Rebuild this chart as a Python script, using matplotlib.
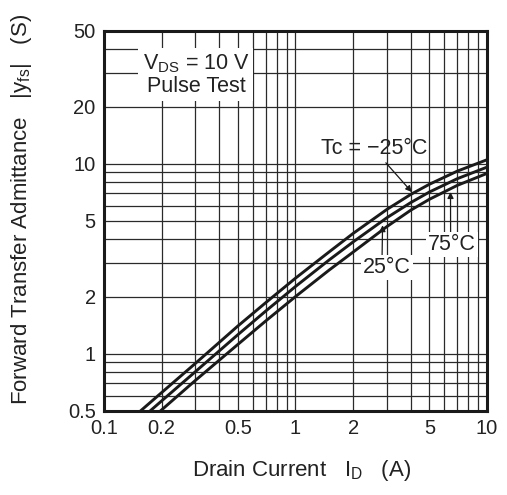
import matplotlib.pyplot as plt
from matplotlib.ticker import FixedLocator, NullFormatter

plt.rcParams["font.family"] = ["Liberation Sans", "DejaVu Sans"]
plt.rcParams["mathtext.fontset"] = "custom"
plt.rcParams["mathtext.rm"] = "Liberation Sans"
plt.rcParams["mathtext.it"] = "Liberation Sans"

# Curve data (I_D in A, |yfs| in S)
id_m25 = [0.155, 0.2, 0.3, 0.5, 0.7, 1, 1.5, 2, 3, 4, 5, 7, 10]
yfs_m25 = [0.5, 0.625, 0.89, 1.4, 1.86, 2.5, 3.44, 4.3, 5.75, 6.9, 7.8, 9.15, 10.5]

id_25 = [0.174, 0.2, 0.3, 0.5, 0.7, 1, 1.5, 2, 3, 4, 5, 7, 10]
yfs_25 = [0.5, 0.565, 0.805, 1.26, 1.68, 2.26, 3.12, 3.88, 5.2, 6.25, 7.1, 8.35, 9.6]

id_75 = [0.197, 0.3, 0.5, 0.7, 1, 1.5, 2, 3, 4, 5, 7, 10]
yfs_75 = [0.5, 0.724, 1.12, 1.49, 2.0, 2.76, 3.43, 4.67, 5.7, 6.5, 7.7, 8.9]

x_major = [0.1, 0.2, 0.5, 1, 2, 5, 10]
x_labels = ["0.1", "0.2", "0.5", "1", "2", "5", "10"]
y_major = [0.5, 1, 2, 5, 10, 20, 50]
y_labels = ["0.5", "1", "2", "5", "10", "20", "50"]
x_grid = [0.3, 0.4, 0.6, 0.7, 0.8, 0.9, 3, 4, 6, 7, 8, 9]
y_grid = [0.6, 0.7, 0.8, 0.9, 3, 4, 6, 7, 8, 9, 30, 40]

fig = plt.figure(figsize=(5.07, 4.95), dpi=100)
ax = fig.add_axes([0.2051, 0.1697, 0.7554, 0.7677])

ax.set_xscale("log")
ax.set_yscale("log")
ax.set_xlim(0.1, 10)
ax.set_ylim(0.5, 50)

ax.xaxis.set_major_locator(FixedLocator(x_major))
ax.xaxis.set_minor_locator(FixedLocator(x_grid))
ax.yaxis.set_major_locator(FixedLocator(y_major))
ax.yaxis.set_minor_locator(FixedLocator(y_grid))
ax.set_xticklabels(x_labels)
ax.set_yticklabels(y_labels)
ax.xaxis.set_minor_formatter(NullFormatter())
ax.yaxis.set_minor_formatter(NullFormatter())
ax.tick_params(which="both", length=0, labelsize=14.5, colors="#222222")
ax.tick_params(axis="x", pad=6)
ax.tick_params(axis="y", pad=6)

# grid on every decade subdivision
ax.grid(which="both", color="#2a2a2a", linewidth=0.9)
ax.set_axisbelow(True)

for side in ax.spines.values():
    side.set_linewidth(2.2)
    side.set_color("#1a1a1a")

# curves
for xs, ys in [(id_m25, yfs_m25), (id_25, yfs_25), (id_75, yfs_75)]:
    ax.plot(xs, ys, color="#1a1a1a", linewidth=2.1, solid_capstyle="butt", zorder=3)

white = dict(facecolor="white", edgecolor="none", pad=1.5)

ax.text(0.302, 29.4, "V$_{\\mathrm{DS}}$ = 10 V\nPulse Test", fontsize=15.5,
        ha="center", va="center", linespacing=1.1, color="#222222",
        bbox=dict(facecolor="white", edgecolor="none", pad=3), zorder=4)

# Tc = -25 C label and arrow
ax.annotate("Tc = \u221225\u00b0C", xy=(4.05, 7.1), xytext=(2.57, 10.6),
            fontsize=15.5, ha="center", va="bottom", color="#222222",
            arrowprops=dict(arrowstyle="-|>", color="#1a1a1a", lw=0.9,
                            mutation_scale=9, shrinkA=1, shrinkB=0,
                            relpos=(0.58, 0.0)),
            zorder=4)

# 25 C label and arrow
ax.annotate("25\u00b0C", xy=(2.85, 4.75), xytext=(3.0, 2.84),
            fontsize=15.5, ha="center", va="center", color="#222222",
            bbox=white,
            arrowprops=dict(arrowstyle="-|>", color="#1a1a1a", lw=0.9,
                            mutation_scale=9, shrinkA=0, shrinkB=0,
                            relpos=(0.4, 1.0)),
            zorder=4)

# 75 C label and arrow
ax.annotate("75\u00b0C", xy=(6.45, 7.1), xytext=(6.57, 3.75),
            fontsize=15.5, ha="center", va="center", color="#222222",
            bbox=white,
            arrowprops=dict(arrowstyle="-|>", color="#1a1a1a", lw=0.9,
                            mutation_scale=9, shrinkA=0, shrinkB=0,
                            relpos=(0.47, 1.0)),
            zorder=4)

fig.text(0.594, 0.05, "Drain Current   I$_{\\mathrm{D}}$   (A)", fontsize=16,
         ha="center", va="center", color="#222222")
fig.text(0.043, 0.576, "Forward Transfer Admittance   |y$_{\\mathrm{fs}}$|   (S)",
         fontsize=16, ha="center", va="center", rotation=90, color="#222222")

fig.savefig("out.png", dpi=100)
